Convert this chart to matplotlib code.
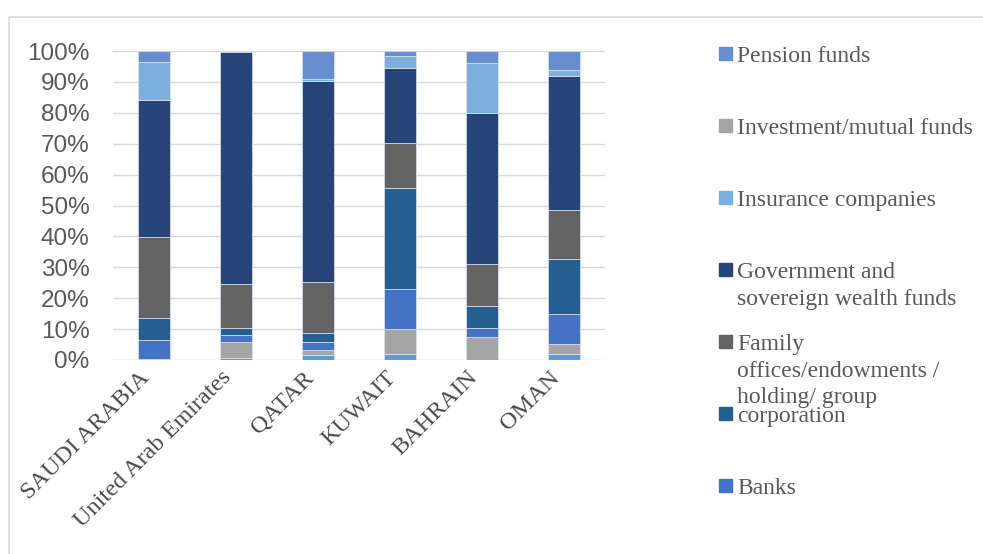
import matplotlib.pyplot as plt
from matplotlib.patches import Rectangle
from matplotlib.lines import Line2D
from matplotlib.ticker import PercentFormatter
from matplotlib.transforms import ScaledTranslation
import numpy as np

# share of investor types per country (%), stacked bottom to top
countries = ['SAUDI ARABIA', 'United Arab Emirates', 'QATAR', 'KUWAIT', 'BAHRAIN', 'OMAN']
other = [0.4, 0.6, 1.5, 1.9, 0.0, 1.9]
investment = [0.0, 5.1, 1.6, 8.1, 7.3, 3.4]
banks = [6.2, 2.5, 2.6, 12.9, 2.9, 9.5]
corporation = [7.1, 2.3, 3.0, 32.8, 7.4, 17.8]
family = [26.0, 14.0, 16.4, 14.4, 13.6, 16.1]
government = [44.5, 75.1, 65.3, 24.3, 48.7, 43.3]
insurance = [12.2, 0.0, 0.4, 4.0, 16.2, 1.8]
pension = [3.6, 0.4, 9.2, 1.6, 3.9, 6.2]

series = [
    ('Other', other, '#5B9BD5'),
    ('Investment/mutual funds', investment, '#A5A5A5'),
    ('Banks', banks, '#4472C4'),
    ('corporation', corporation, '#255E91'),
    ('Family\noffices/endowments /\nholding/ group', family, '#636363'),
    ('Government and\nsovereign wealth funds', government, '#264478'),
    ('Insurance companies', insurance, '#7CAFDD'),
    ('Pension funds', pension, '#698ED0'),
]
legend_order = ['Pension funds', 'Investment/mutual funds', 'Insurance companies',
                'Government and\nsovereign wealth funds',
                'Family\noffices/endowments /\nholding/ group', 'corporation', 'Banks']

W, H = 983, 554
fig = plt.figure(figsize=(W / 100, H / 100), dpi=100)
ax = fig.add_axes([113 / W, 1 - 360 / H, (605 - 113) / W, (360 - 51) / H])

x = np.arange(len(countries))
bottom = np.zeros(len(countries))
for name, vals, color in series:
    vals = np.array(vals)
    ax.bar(x, vals, 0.39, bottom=bottom, color=color, edgecolor='#dce6f4',
           linewidth=0.5, zorder=3)
    bottom += vals

ax.set_xlim(-0.5, len(countries) - 0.5)
ax.set_ylim(0, 100)
ax.set_yticks(np.arange(0, 101, 10))
ax.yaxis.set_major_formatter(PercentFormatter(decimals=0))
ax.grid(axis='y', color='#D9D9D9', linewidth=1.0, zorder=0)
for s in ax.spines.values():
    s.set_visible(False)
ax.tick_params(axis='both', length=0)
ax.tick_params(axis='y', pad=17, labelsize=17.5, labelcolor='#595959')
for lab in ax.get_yticklabels():
    lab.set_fontfamily('Liberation Sans')

ax.set_xticks(x)
ax.set_xticklabels(countries, rotation=45, ha='right', va='top',
                   rotation_mode='anchor', fontsize=17.5, color='#4a4a4a',
                   family='Liberation Serif')
ax.tick_params(axis='x', pad=5)
shift = ScaledTranslation(-15 / 100, 0, fig.dpi_scale_trans)
for lab in ax.get_xticklabels():
    lab.set_transform(lab.get_transform() + shift)

# legend drawn by hand in pixel positions
colors = {name: color for name, _, color in series}
for i, name in enumerate(legend_order):
    yc = 53 + 72 * i
    fig.patches.append(Rectangle((719 / W, 1 - (yc + 6.5) / H), 13 / W, 13 / H,
                                 transform=fig.transFigure, color=colors[name]))
    fig.text(737 / W, 1 - (yc - 7) / H, name, va='top', ha='left',
             fontsize=17, color='#595959', family='Liberation Serif',
             linespacing=1.35)

# chart frame
fig.lines.append(Line2D([8.5 / W, 8.5 / W, 1], [0, 1 - 16.5 / H, 1 - 16.5 / H],
                        transform=fig.transFigure, color='#D9D9D9', linewidth=1.2))

fig.savefig('out.png', dpi=100)
